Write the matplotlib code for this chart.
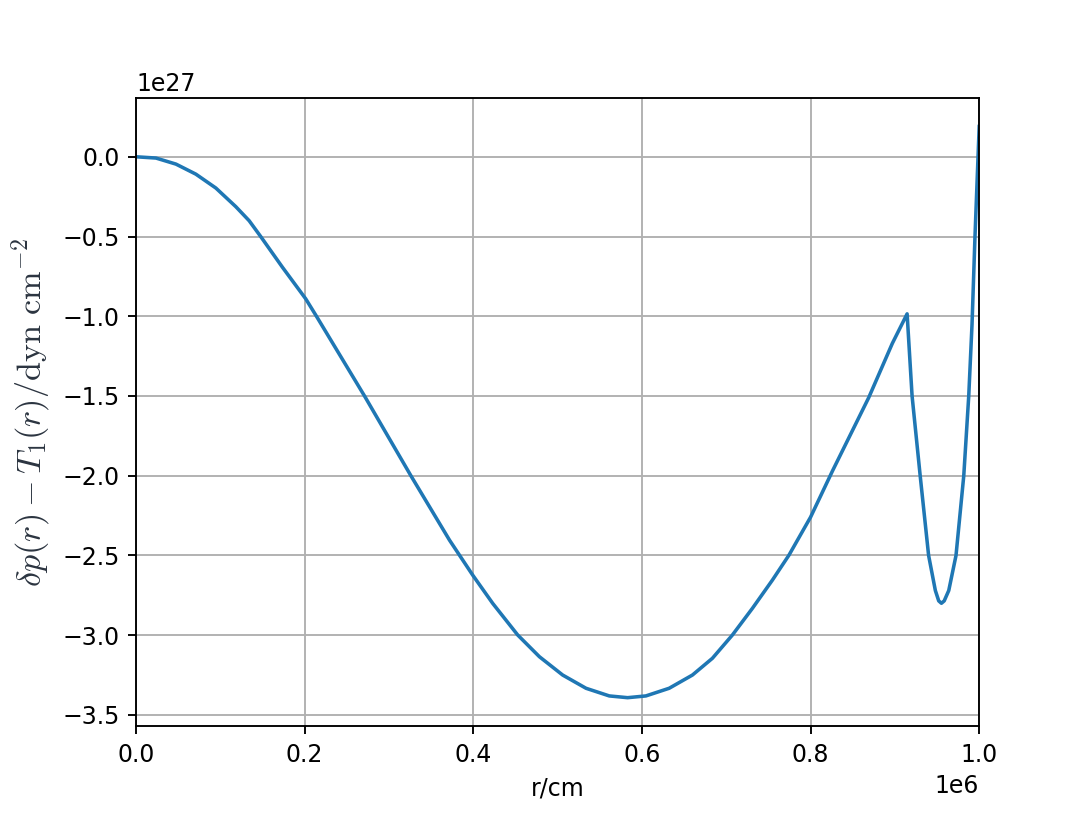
import numpy as np
import matplotlib.pyplot as plt

# radius (units of 1e6 cm) and delta p - T1 (units of 1e27 dyn cm^-2)
r_e6 = [0.0, 0.0237, 0.0474, 0.071, 0.0947, 0.1184, 0.1342, 0.148, 0.1737, 0.2013,
        0.214, 0.271, 0.326, 0.3718, 0.3994, 0.4231, 0.4527, 0.4784, 0.506, 0.5337,
        0.5613, 0.583, 0.6047, 0.6323, 0.6599, 0.6836, 0.7073, 0.731, 0.7547, 0.7744,
        0.800, 0.826, 0.869, 0.897, 0.9145, 0.9204, 0.930, 0.940, 0.948, 0.952,
        0.9552, 0.9585, 0.9639, 0.9725, 0.9817, 0.9876, 0.9915, 0.995, 1.0]
dp_e27 = [0.0, -0.008, -0.046, -0.109, -0.196, -0.313, -0.401, -0.501, -0.693, -0.891,
          -1.00, -1.50, -2.00, -2.404, -2.624, -2.801, -2.999, -3.135, -3.25, -3.333,
          -3.381, -3.392, -3.381, -3.333, -3.25, -3.145, -2.999, -2.832, -2.655, -2.498,
          -2.26, -1.97, -1.51, -1.17, -0.985, -1.50, -2.00, -2.50, -2.72, -2.785,
          -2.80, -2.785, -2.72, -2.50, -2.00, -1.50, -1.05, -0.50, 0.19]

r = np.array(r_e6) * 1e6
dp = np.array(dp_e27) * 1e27

plt.rcParams['mathtext.fontset'] = 'cm'

fig = plt.figure(figsize=(6.4, 4.8), dpi=170)
plt.plot(r, dp)
plt.xlim(0, 1e6)
plt.grid(True)
plt.xlabel("r/cm")
plt.ylabel(r"$\delta p(r) - T_1(r)/\mathrm{dyn\ cm}^{-2}$", fontsize=14.5, color='#2b3440')
plt.savefig("out.png", dpi=170)
